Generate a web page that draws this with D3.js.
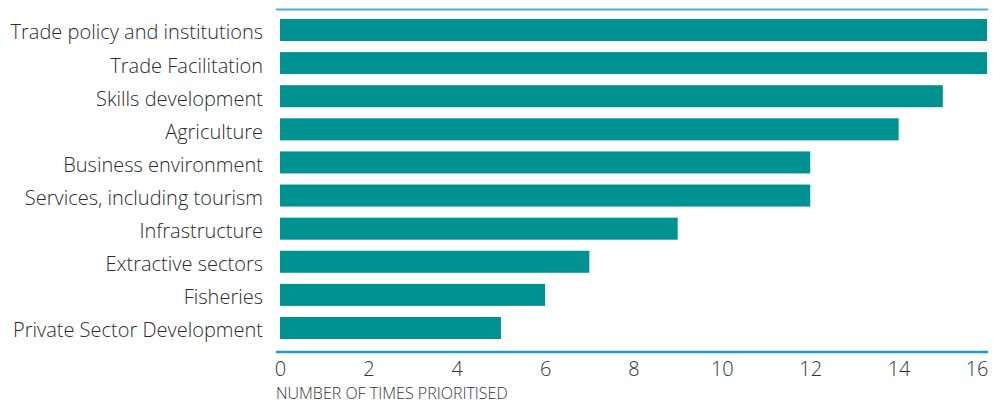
<!DOCTYPE html>
<html><head><meta charset="utf-8">
<script src="https://cdn.jsdelivr.net/npm/d3@7"></script>
<style>body{margin:0;background:#fff}svg{display:block}text{font-family:"Open Sans",sans-serif}</style>
</head><body><svg id="c" width="993" height="403"></svg>
<script>
const categories = ["Trade policy and institutions","Trade Facilitation","Skills development","Agriculture","Business environment","Services, including tourism","Infrastructure","Extractive sectors","Fisheries","Private Sector Development"];
const values = [16,16,15,14,12,12,9,7,6,5];
const ticks = [0,2,4,6,8,10,12,14,16];
const axisTitle = "NUMBER OF TIMES PRIORITISED";

const svg = d3.select("#c");
const x = d3.scaleLinear().domain([0,16]).range([280,987]);
const y = d3.scaleBand().domain(categories).range([9,349]).paddingInner(0.335).paddingOuter(0.302);

svg.append("line").attr("x1",276).attr("x2",988).attr("y1",9.5).attr("y2",9.5).attr("stroke","#45b0e3").attr("stroke-width",2);

svg.selectAll("rect.bar").data(values).join("rect").attr("class","bar")
  .attr("x",x(0)).attr("y",(d,i)=>y(categories[i])).attr("width",d=>x(d)-x(0)).attr("height",y.bandwidth()).attr("fill","#009191");

svg.selectAll("text.cat").data(categories).join("text").attr("class","cat")
  .attr("x",263).attr("y",d=>y(d)+y.bandwidth()/2).attr("dy","0.47em").attr("text-anchor","end")
  .attr("font-size",20).attr("font-weight",300).attr("fill","#2b2b2b").text(d=>d);

const ax = svg.append("g").attr("transform","translate(0,352)")
  .call(d3.axisBottom(x).tickValues(ticks).tickSize(0).tickPadding(0).tickFormat(d3.format("d")));
ax.select(".domain").attr("stroke","#1b9ad6").attr("stroke-width",2.5).attr("d","M276,0H988");
ax.selectAll("text").attr("font-size",20).attr("font-weight",300).attr("fill","#333")
  .attr("font-family","'Open Sans',sans-serif").attr("dy",null).attr("y",24)
  .attr("text-anchor",(d,i)=>i===ticks.length-1?"end":"middle")
  .attr("dx",(d,i)=>i===ticks.length-1?"0.05em":null);

svg.append("text").attr("x",276).attr("y",399).attr("font-size",16).attr("font-weight",300).attr("fill","#333").text(axisTitle);
</script></body></html>
